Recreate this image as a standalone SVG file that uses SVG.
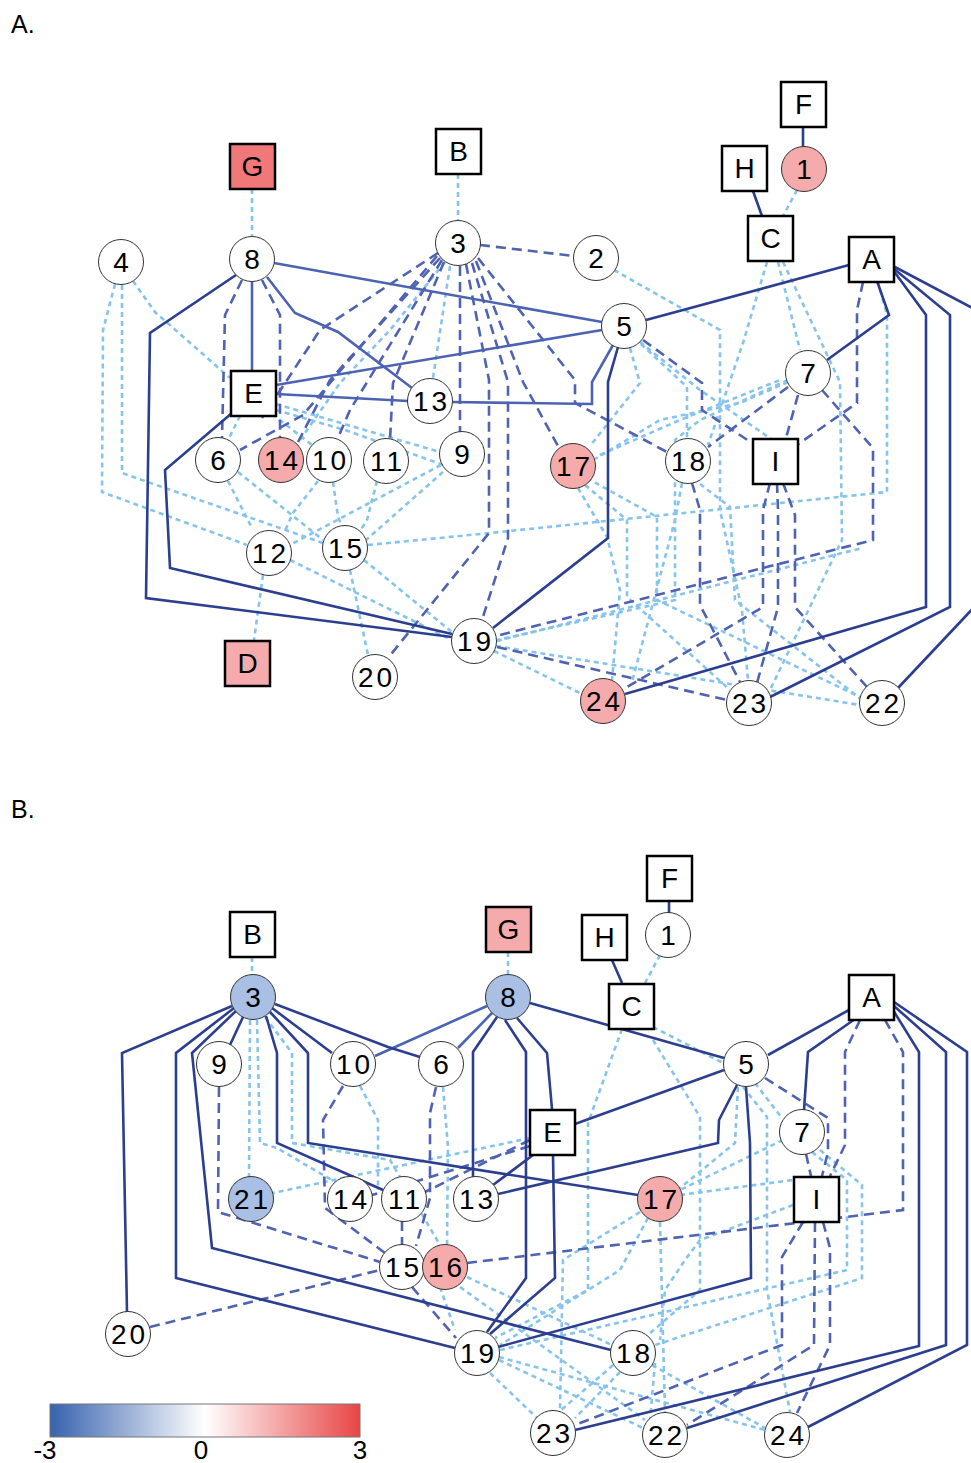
<svg xmlns="http://www.w3.org/2000/svg" width="971" height="1463" viewBox="0 0 971 1463">
<style>
.e{fill:none;stroke-width:2.6;stroke-linejoin:miter}
.s1{stroke:#2c3e8f}
.s2{stroke:#4c63b3}
.d{stroke:#4f63b2;stroke-dasharray:10 6}
.t{stroke:#86c4ec;stroke-dasharray:5 4}
.n circle{fill:#fff;stroke:#333;stroke-width:1}
.n rect{fill:#fff;stroke:#000;stroke-width:2.5}
.n .pk{fill:#f5abab}
.n .rd{fill:#f07878}
.n .bl{fill:#a9bfe3}
text{font-family:"Liberation Sans",Arial,sans-serif;fill:#000}
.n text{font-size:28px;text-anchor:middle}
.n text.two{letter-spacing:3px}
.lab{font-size:25px}
.cb{font-size:26px;text-anchor:middle}
</style>
<defs>
<linearGradient id="cbar" x1="0" y1="0" x2="1" y2="0">
<stop offset="0" stop-color="#3762ae"/>
<stop offset="0.5" stop-color="#ffffff"/>
<stop offset="1" stop-color="#e84545"/>
</linearGradient>
</defs>
<rect width="971" height="1463" fill="#fff"/>
<text class="lab" x="11" y="33">A.</text>
<text class="lab" x="11" y="818">B.</text>

<!-- panel A connectors -->
<g id="edgesA">
<g class="e t">
<polyline points="252,189 252,236"/>
<polyline points="458,174 458,220"/>
<polyline points="797,190 783,216"/>
<polyline points="133,281 155,312 230,378"/>
<polyline points="115,284 103,330 102,492 247,545"/>
<polyline points="122,285 122,473 323,543"/>
<polyline points="228,481 252,528"/>
<polyline points="238,472 323,540"/>
<polyline points="318,481 293,513 284,533"/>
<polyline points="333,482 338,517 342,526"/>
<polyline points="377,481 367,520 360,531"/>
<polyline points="441,465 290,545"/>
<polyline points="443,472 366,540"/>
<polyline points="368,545 490,533 887,492 887,315 878,282"/>
<polyline points="263,575 254,640"/>
<polyline points="350,570 368,655"/>
<polyline points="290,560 452,640"/>
<polyline points="364,560 453,633"/>
<polyline points="276,404 440,452"/>
<polyline points="272,414 312,445"/>
<polyline points="240,416 228,440"/>
<polyline points="276,410 345,430 452,468"/>
<polyline points="450,266 433,378"/>
<polyline points="445,262 390,330 340,383 300,440"/>
<polyline points="614,270 720,330 720,510 742,610 748,680"/>
<polyline points="630,348 640,383 590,446"/>
<polyline points="641,344 687,387 687,438"/>
<polyline points="767,262 743,343 708,445"/>
<polyline points="778,262 800,350"/>
<polyline points="783,262 840,382 842,540 770,690"/>
<polyline points="788,382 740,403 660,420 595,459"/>
<polyline points="788,380 700,420 675,440 675,600 497,640"/>
<polyline points="587,478 657,517 657,600 860,697"/>
<polyline points="585,485 627,520 627,597 730,690"/>
<polyline points="578,488 607,537 620,590 612,680"/>
<polyline points="682,483 675,520 632,682"/>
<polyline points="700,484 730,507 735,600 862,700"/>
<polyline points="496,646 860,705"/>
<polyline points="494,651 582,694"/>
<polyline points="497,641 580,620 862,548"/>
<polyline points="600,455 680,420 780,380"/>
<polyline points="640,342 700,390 780,445"/>
</g>
<g class="e d">
<polyline points="480,245 574,256"/>
<polyline points="242,280 225,315 222,438"/>
<polyline points="262,280 280,315 280,437"/>
<polyline points="460,266 460,432"/>
<polyline points="466,264 489,380 489,533 388,658"/>
<polyline points="472,263 508,382 508,538 482,620"/>
<polyline points="476,261 523,382 558,446"/>
<polyline points="478,258 575,380 575,403 667,452"/>
<polyline points="444,262 393,383 390,440"/>
<polyline points="442,260 350,410 337,440"/>
<polyline points="440,258 330,380 297,444"/>
<polyline points="437,256 303,415 240,450"/>
<polyline points="438,253 320,330 262,418"/>
<polyline points="643,340 702,383 702,410 752,443"/>
<polyline points="788,387 708,447"/>
<polyline points="798,395 786,438"/>
<polyline points="822,390 873,448 873,540 496,636"/>
<polyline points="863,282 857,310 857,403 797,445"/>
<polyline points="770,483 763,510 763,607 622,690"/>
<polyline points="777,483 778,510 778,607 757,683"/>
<polyline points="783,483 795,515 795,607 867,687"/>
<polyline points="692,483 700,510 700,605 740,682"/>
<polyline points="497,647 727,700"/>
</g>
<g class="e s2">
<polyline points="274,263 602,322"/>
<polyline points="252,282 252,370"/>
<polyline points="267,277 295,313 338,332 412,388"/>
<polyline points="276,385 602,330"/>
<polyline points="276,394 408,401"/>
<polyline points="452,402 592,404 592,382 613,345"/>
</g>
<g class="e s1">
<polyline points="803,126 803,147"/>
<polyline points="753,191 762,216"/>
<polyline points="236,275 150,333 146,598 452,637"/>
<polyline points="232,413 165,470 170,568 452,634"/>
<polyline points="618,347 608,382 608,538 493,628"/>
<polyline points="646,320 849,265"/>
<polyline points="877,281 889,315 827,360"/>
<polyline points="893,270 926,315 926,607 625,694"/>
<polyline points="893,268 950,315 950,607 770,697"/>
<polyline points="893,266 995,320 995,585 898,688"/>
</g>
</g>

<!-- panel B connectors -->
<g id="edgesB">
<g class="e t">
<polyline points="252,957 252,975"/>
<polyline points="508,952 508,975"/>
<polyline points="660,955 645,983"/>
<polyline points="250,1020 249,1177"/>
<polyline points="257,1020 260,1143 277,1148 335,1182"/>
<polyline points="265,1017 292,1053 292,1143 390,1160 440,1245"/>
<polyline points="360,1086 378,1120 378,1190"/>
<polyline points="443,1087 448,1147 447,1245"/>
<polyline points="530,1138 273,1193"/>
<polyline points="622,1029 588,1123 588,1290 495,1338"/>
<polyline points="653,1027 723,1063"/>
<polyline points="653,1040 700,1117 700,1290 560,1411"/>
<polyline points="738,1087 735,1143 680,1188"/>
<polyline points="743,1087 767,1117 767,1290 790,1412"/>
<polyline points="755,1083 782,1118"/>
<polyline points="783,1140 680,1190"/>
<polyline points="820,1150 862,1185 862,1278 655,1345"/>
<polyline points="812,1152 847,1180 847,1270 500,1350"/>
<polyline points="660,1222 665,1412"/>
<polyline points="648,1218 620,1270 500,1345"/>
<polyline points="640,1212 563,1260 560,1410"/>
<polyline points="467,1277 612,1345"/>
<polyline points="460,1287 645,1420"/>
<polyline points="490,1373 537,1418"/>
<polyline points="499,1360 643,1428"/>
<polyline points="499,1357 765,1430"/>
<polyline points="620,1372 575,1418"/>
<polyline points="652,1365 765,1428"/>
<polyline points="793,1205 700,1240 685,1260 665,1290 660,1340"/>
<polyline points="680,1195 793,1180"/>
<polyline points="655,1363 650,1420"/>
<polyline points="440,1287 455,1330"/>
</g>
<g class="e d">
<polyline points="765,1078 828,1118 828,1152 822,1176"/>
<polyline points="806,1154 811,1176"/>
<polyline points="860,1020 845,1052 845,1145 830,1176"/>
<polyline points="885,1020 903,1052 903,1210 467,1263"/>
<polyline points="803,1222 782,1257 782,1345 575,1425"/>
<polyline points="815,1222 814,1345 687,1425"/>
<polyline points="823,1222 830,1248 830,1345 797,1413"/>
<polyline points="219,1087 218,1212 380,1262"/>
<polyline points="343,1086 323,1120 325,1208 385,1253"/>
<polyline points="436,1087 430,1113 430,1198 416,1246"/>
<polyline points="530,1140 425,1192"/>
<polyline points="530,1146 372,1195"/>
<polyline points="150,1327 380,1270"/>
<polyline points="402,1221 402,1245"/>
<polyline points="412,1287 456,1338"/>
</g>
<g class="e s2">
<polyline points="487,1006 375,1056"/>
<polyline points="492,1013 458,1048"/>
</g>
<g class="e s1">
<polyline points="669,900 669,913"/>
<polyline points="612,960 622,983"/>
<polyline points="232,1006 122,1053 127,1312"/>
<polyline points="234,1008 176,1053 176,1278 455,1348"/>
<polyline points="237,1010 192,1053 212,1248 611,1350"/>
<polyline points="243,1017 230,1045"/>
<polyline points="266,1016 277,1053 277,1143 383,1190"/>
<polyline points="270,1012 308,1053 308,1143 638,1195"/>
<polyline points="272,1008 332,1053"/>
<polyline points="275,1004 388,1047 420,1057"/>
<polyline points="530,1003 724,1058"/>
<polyline points="497,1017 473,1052 473,1177"/>
<polyline points="505,1020 526,1052 526,1278 487,1332"/>
<polyline points="517,1018 547,1053 552,1109"/>
<polyline points="553,1155 555,1278 490,1334"/>
<polyline points="575,1124 724,1070"/>
<polyline points="533,1155 493,1185"/>
<polyline points="737,1085 719,1120 718,1143 498,1194"/>
<polyline points="746,1087 750,1143 751,1278 498,1347"/>
<polyline points="849,1010 768,1055"/>
<polyline points="855,1019 808,1052 804,1110"/>
<polyline points="893,1010 919,1052 919,1346 575,1430"/>
<polyline points="894,1006 946,1052 946,1345 687,1428"/>
<polyline points="894,1002 967,1052 967,1345 808,1427"/>
</g>
</g>

<!-- panel A nodes -->
<g id="a-G" class="n"><rect class="rd" x="230" y="144" width="45" height="45"/><text x="252.5" y="176">G</text></g>
<g id="a-B" class="n"><rect x="436" y="129" width="45" height="45"/><text x="458.5" y="161">B</text></g>
<g id="a-F" class="n"><rect x="781" y="82" width="45" height="45"/><text x="803.5" y="114">F</text></g>
<g id="a-H" class="n"><rect x="722" y="146" width="45" height="45"/><text x="744.5" y="178">H</text></g>
<g id="a-C" class="n"><rect x="748" y="216" width="45" height="45"/><text x="770.5" y="248">C</text></g>
<g id="a-A" class="n"><rect x="849" y="237" width="45" height="45"/><text x="871.5" y="269">A</text></g>
<g id="a-E" class="n"><rect x="231" y="371" width="45" height="45"/><text x="253.5" y="403">E</text></g>
<g id="a-I" class="n"><rect x="753" y="439" width="45" height="45"/><text x="775.5" y="471">I</text></g>
<g id="a-D" class="n"><rect class="pk" x="225" y="641" width="45" height="45"/><text x="247.5" y="673">D</text></g>
<g id="a-1" class="n"><circle class="pk" cx="804" cy="169" r="22.5"/><text x="804" y="179">1</text></g>
<g id="a-2" class="n"><circle cx="596" cy="258" r="22.5"/><text x="596" y="268">2</text></g>
<g id="a-3" class="n"><circle cx="458" cy="243" r="22.5"/><text x="458" y="253">3</text></g>
<g id="a-4" class="n"><circle cx="121" cy="262" r="22.5"/><text x="121" y="272">4</text></g>
<g id="a-5" class="n"><circle cx="624" cy="326" r="22.5"/><text x="624" y="336">5</text></g>
<g id="a-6" class="n"><circle cx="218" cy="460" r="22.5"/><text x="218" y="470">6</text></g>
<g id="a-7" class="n"><circle cx="808" cy="373" r="22.5"/><text x="808" y="383">7</text></g>
<g id="a-8" class="n"><circle cx="252" cy="259" r="22.5"/><text x="252" y="269">8</text></g>
<g id="a-9" class="n"><circle cx="462" cy="454" r="22.5"/><text x="462" y="464">9</text></g>
<g id="a-10" class="n"><circle cx="329" cy="460" r="22.5"/><text class="two" x="330.5" y="470">10</text></g>
<g id="a-11" class="n"><circle cx="386" cy="461" r="22.5"/><text class="two" x="387.5" y="471">11</text></g>
<g id="a-12" class="n"><circle cx="269" cy="553" r="22.5"/><text class="two" x="270.5" y="563">12</text></g>
<g id="a-13" class="n"><circle cx="430" cy="401" r="22.5"/><text class="two" x="431.5" y="411">13</text></g>
<g id="a-14" class="n"><circle class="pk" cx="281" cy="460" r="22.5"/><text class="two" x="282.5" y="470">14</text></g>
<g id="a-15" class="n"><circle cx="345" cy="548" r="22.5"/><text class="two" x="346.5" y="558">15</text></g>
<g id="a-17" class="n"><circle class="pk" cx="573" cy="466" r="22.5"/><text class="two" x="574.5" y="476">17</text></g>
<g id="a-18" class="n"><circle cx="688" cy="461" r="22.5"/><text class="two" x="689.5" y="471">18</text></g>
<g id="a-19" class="n"><circle cx="474" cy="641" r="22.5"/><text class="two" x="475.5" y="651">19</text></g>
<g id="a-20" class="n"><circle cx="375" cy="677" r="22.5"/><text class="two" x="376.5" y="687">20</text></g>
<g id="a-22" class="n"><circle cx="882" cy="703" r="22.5"/><text class="two" x="883.5" y="713">22</text></g>
<g id="a-23" class="n"><circle cx="749" cy="703" r="22.5"/><text class="two" x="750.5" y="713">23</text></g>
<g id="a-24" class="n"><circle class="pk" cx="603" cy="701" r="22.5"/><text class="two" x="604.5" y="711">24</text></g>

<!-- panel B nodes -->
<g id="b-B" class="n"><rect x="230" y="912" width="45" height="45"/><text x="252.5" y="944">B</text></g>
<g id="b-G" class="n"><rect class="pk" x="486" y="907" width="45" height="45"/><text x="508.5" y="939">G</text></g>
<g id="b-H" class="n"><rect x="582" y="915" width="45" height="45"/><text x="604.5" y="947">H</text></g>
<g id="b-C" class="n"><rect x="609" y="984" width="45" height="45"/><text x="631.5" y="1016">C</text></g>
<g id="b-F" class="n"><rect x="647" y="856" width="45" height="45"/><text x="669.5" y="888">F</text></g>
<g id="b-A" class="n"><rect x="849" y="975" width="45" height="45"/><text x="871.5" y="1007">A</text></g>
<g id="b-E" class="n"><rect x="530" y="1110" width="45" height="45"/><text x="552.5" y="1142">E</text></g>
<g id="b-I" class="n"><rect x="794" y="1177" width="45" height="45"/><text x="816.5" y="1209">I</text></g>
<g id="b-1" class="n"><circle cx="668" cy="935" r="22.5"/><text x="668" y="945">1</text></g>
<g id="b-3" class="n"><circle class="bl" cx="253" cy="997" r="22.5"/><text x="253" y="1007">3</text></g>
<g id="b-5" class="n"><circle cx="746" cy="1064" r="22.5"/><text x="746" y="1074">5</text></g>
<g id="b-6" class="n"><circle cx="441" cy="1064" r="22.5"/><text x="441" y="1074">6</text></g>
<g id="b-7" class="n"><circle cx="802" cy="1132" r="22.5"/><text x="802" y="1142">7</text></g>
<g id="b-8" class="n"><circle class="bl" cx="508" cy="997" r="22.5"/><text x="508" y="1007">8</text></g>
<g id="b-9" class="n"><circle cx="219" cy="1064" r="22.5"/><text x="219" y="1074">9</text></g>
<g id="b-10" class="n"><circle cx="353" cy="1064" r="22.5"/><text class="two" x="354.5" y="1074">10</text></g>
<g id="b-11" class="n"><circle cx="404" cy="1199" r="22.5"/><text class="two" x="405.5" y="1209">11</text></g>
<g id="b-13" class="n"><circle cx="476" cy="1199" r="22.5"/><text class="two" x="477.5" y="1209">13</text></g>
<g id="b-14" class="n"><circle cx="350" cy="1199" r="22.5"/><text class="two" x="351.5" y="1209">14</text></g>
<g id="b-15" class="n"><circle cx="402" cy="1267" r="22.5"/><text class="two" x="403.5" y="1277">15</text></g>
<g id="b-16" class="n"><circle class="pk" cx="445" cy="1267" r="22.5"/><text class="two" x="446.5" y="1277">16</text></g>
<g id="b-17" class="n"><circle class="pk" cx="660" cy="1199" r="22.5"/><text class="two" x="661.5" y="1209">17</text></g>
<g id="b-18" class="n"><circle cx="633" cy="1353" r="22.5"/><text class="two" x="634.5" y="1363">18</text></g>
<g id="b-19" class="n"><circle cx="477" cy="1353" r="22.5"/><text class="two" x="478.5" y="1363">19</text></g>
<g id="b-20" class="n"><circle cx="128" cy="1334" r="22.5"/><text class="two" x="129.5" y="1344">20</text></g>
<g id="b-21" class="n"><circle class="bl" cx="251" cy="1199" r="22.5"/><text class="two" x="252.5" y="1209">21</text></g>
<g id="b-22" class="n"><circle cx="665" cy="1435" r="22.5"/><text class="two" x="666.5" y="1445">22</text></g>
<g id="b-23" class="n"><circle cx="553" cy="1433" r="22.5"/><text class="two" x="554.5" y="1443">23</text></g>
<g id="b-24" class="n"><circle cx="787" cy="1435" r="22.5"/><text class="two" x="788.5" y="1445">24</text></g>

<!-- colour scale -->
<g id="colorbar">
<rect x="50" y="1404" width="310" height="33" fill="url(#cbar)" stroke="#777" stroke-width="1"/>
<text class="cb" x="45" y="1459">-3</text>
<text class="cb" x="201" y="1459">0</text>
<text class="cb" x="360" y="1459">3</text>
</g>
</svg>
